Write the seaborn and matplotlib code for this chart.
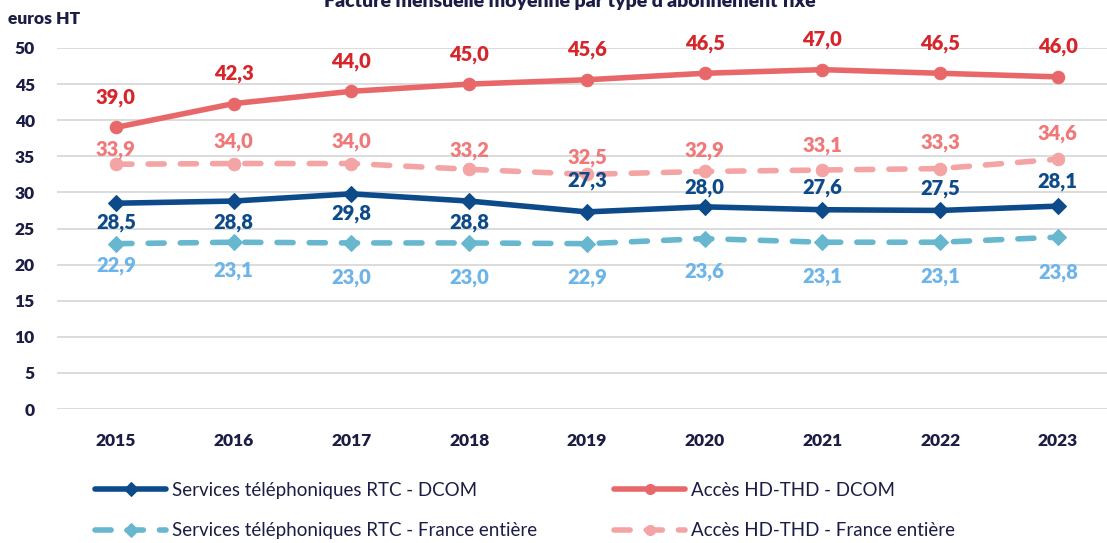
import numpy as np
import pandas as pd
import matplotlib
matplotlib.use("Agg")
import matplotlib.pyplot as plt
import seaborn as sns

# ── data ────────────────────────────────────────────────────────────────
years = ["2015", "2016", "2017", "2018", "2019", "2020", "2021", "2022", "2023"]
rtc_dcom = [28.5, 28.8, 29.8, 28.8, 27.3, 28.0, 27.6, 27.5, 28.1]
rtc_france = [22.9, 23.1, 23.0, 23.0, 22.9, 23.6, 23.1, 23.1, 23.8]
hd_dcom = [39.0, 42.3, 44.0, 45.0, 45.6, 46.5, 47.0, 46.5, 46.0]
hd_france = [33.9, 34.0, 34.0, 33.2, 32.5, 32.9, 33.1, 33.3, 34.6]
yticks = [0, 5, 10, 15, 20, 25, 30, 35, 40, 45, 50]

title = "Facture mensuelle moyenne par type d'abonnement fixe"
ylabel = "euros HT"

NAVY = "#1c1d45"

# label offsets in pixels (positive = above the point)
series = [
    dict(name="Services téléphoniques RTC - DCOM", y=rtc_dcom, color="#0d4a8a",
         lab="#0d4a8a", marker="D", dash=None,
         off=[-19, -21, -20, -21, 31, 19, 22, 22, 25]),
    dict(name="Services téléphoniques RTC - France entière", y=rtc_france,
         color="#67b7cf", lab="#6db4e8", marker="D", dash=(2.9, 2.9),
         off=[-22, -28, -35, -35, -34, -33, -34, -34, -35]),
    dict(name="Accès HD-THD - DCOM", y=hd_dcom, color="#e8686a", lab="#d7262b",
         marker="o", dash=None, off=[30] * 9),
    dict(name="Accès HD-THD - France entière", y=hd_france, color="#f4a4a4",
         lab="#f07878", marker="o", dash=(2.9, 2.9),
         off=[15, 22, 22, 19, 17, 21, 25, 26, 26]),
]

sns.set_theme(style="white")
plt.rcParams["font.family"] = ["Lato", "DejaVu Sans"]

W, H = 1107, 543
fig = plt.figure(figsize=(W / 100, H / 100), dpi=100)
ax = fig.add_axes([57 / W, (H - 409) / H, (W - 57) / W, (409 - 48) / H])

for s in series:
    df = pd.DataFrame({"year": years, "value": s["y"]})
    sns.lineplot(data=df, x="year", y="value", ax=ax, color=s["color"],
                 lw=4.0, marker=s["marker"], ms=9 if s["marker"] == "o" else 8.5,
                 mec=s["color"], mfc=s["color"], label=s["name"], sort=False)
    line = ax.get_lines()[-1]
    if s["dash"]:
        line.set_dashes(s["dash"])
        line.set_dash_capstyle("round")
    for i, v in enumerate(s["y"]):
        ax.annotate(f"{v:.1f}".replace(".", ","), (i, v),
                    xytext=(0, s["off"][i]), textcoords="offset pixels",
                    ha="center", va="center", fontsize=14.5,
                    fontweight="heavy", color=s["lab"])

ax.set_xlim(-0.5, -0.5 + (W - 57) / 117.75)
ax.set_ylim(0, 50)
ax.set_yticks(yticks)
ax.grid(axis="y", color="#d9d9d9", lw=1.3)
ax.grid(axis="x", visible=False)
ax.set_axisbelow(True)
for sp in ax.spines.values():
    sp.set_visible(False)
ax.tick_params(axis="y", length=0, pad=16, labelsize=12.5, labelcolor=NAVY)
ax.tick_params(axis="x", length=0, pad=17, labelsize=12.5, labelcolor=NAVY)
for lab in ax.get_xticklabels() + ax.get_yticklabels():
    lab.set_fontweight("heavy")
ax.set_xlabel("")
ax.set_ylabel("")

handles, labels = ax.get_legend_handles_labels()
ax.legend_.remove()
leg_kw = dict(loc="upper left", frameon=False, fontsize=13.5, handlelength=3.8,
              handletextpad=0.3, labelspacing=1.25, labelcolor=NAVY,
              borderpad=0, borderaxespad=0, markerscale=0.8)
fig.legend(handles[:2], labels[:2], bbox_to_anchor=(95 / W, 1 - 482 / H), **leg_kw)
fig.legend(handles[2:], labels[2:], bbox_to_anchor=(614 / W, 1 - 482 / H), **leg_kw)

fig.text(8 / W, 1 - 19 / H, ylabel, ha="left", va="center",
         fontsize=12.5, fontweight="heavy", color=NAVY)
fig.text(570 / W, 1 - 7 / H, title, ha="center", va="baseline",
         fontsize=14, fontweight="heavy", color=NAVY)

fig.savefig("out.png", dpi=100)
